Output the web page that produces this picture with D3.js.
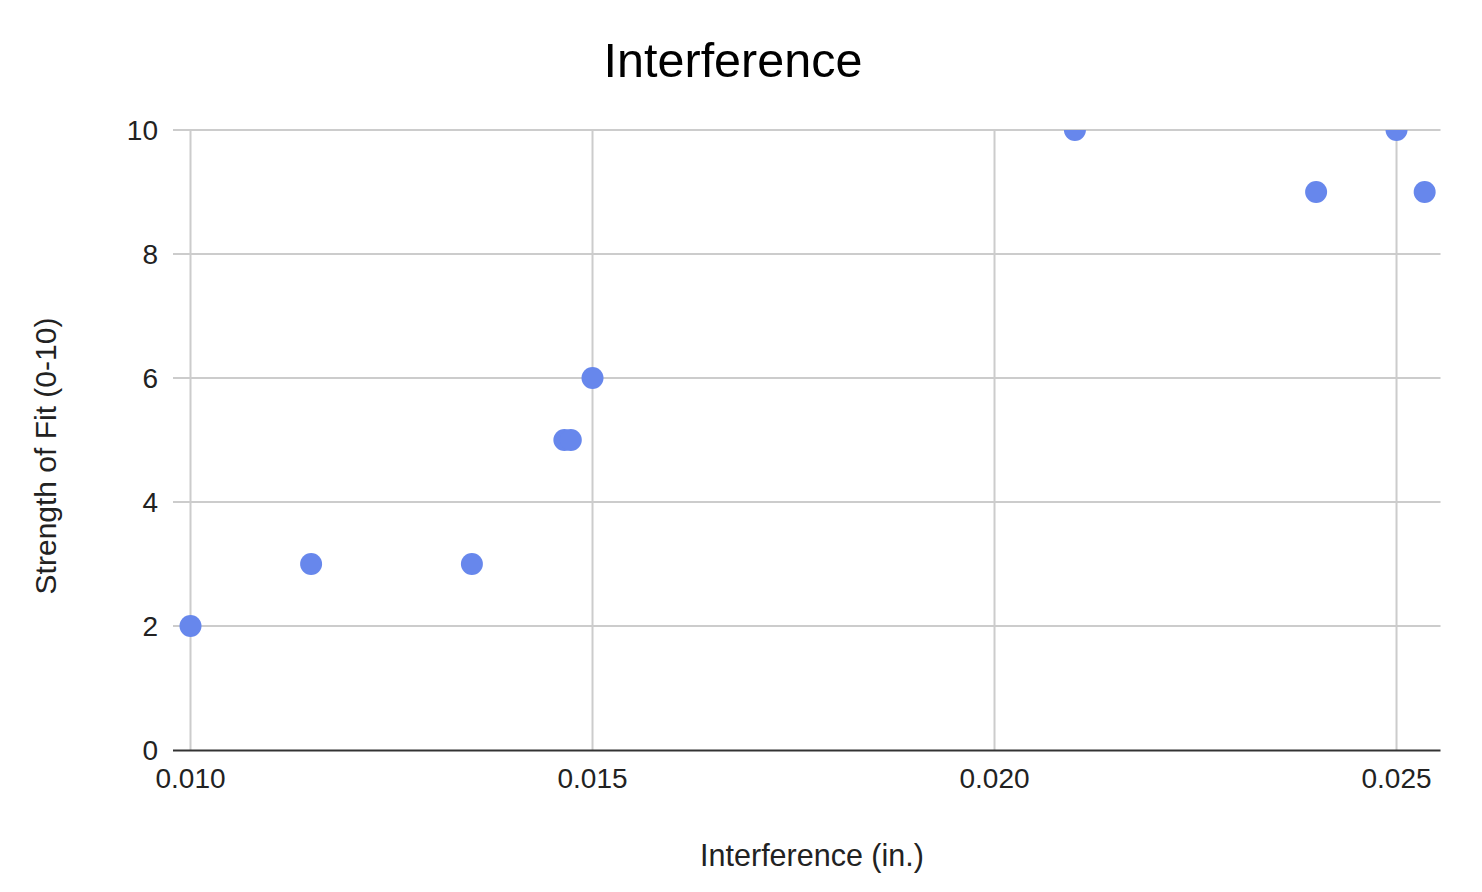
<!DOCTYPE html>
<html><head><meta charset="utf-8">
<script src="https://cdn.jsdelivr.net/npm/d3@7"></script>
<style>body{margin:0;background:#fff;}text{font-family:"Liberation Sans",Arial,sans-serif;}</style>
</head><body>
<script>
const title = "Interference";
const xTitle = "Interference (in.)";
const yTitle = "Strength of Fit (0-10)";
const interference = [0.010, 0.0115, 0.0135, 0.01465, 0.01473, 0.015, 0.021, 0.024, 0.025, 0.02535];
const strength = [2, 3, 3, 5, 5, 6, 10, 9, 10, 9];
const xTicks = [0.010, 0.015, 0.020, 0.025];
const yTicks = [0, 2, 4, 6, 8, 10];
const xDomain = [0.010, 0.025547];
const yDomain = [0, 10];

const W = 1482, H = 892;
const m = {left: 190.5, right: 41.5, top: 130, bottom: 142};
const svg = d3.select("body").append("svg").attr("width", W).attr("height", H);
const x = d3.scaleLinear().domain(xDomain).range([m.left, W - m.right]);
const y = d3.scaleLinear().domain(yDomain).range([H - m.bottom, m.top]);

// horizontal gridlines
svg.append("g").selectAll("line").data(yTicks.filter(d => d !== 0)).join("line")
  .attr("x1", 173).attr("x2", W - m.right)
  .attr("y1", d => y(d)).attr("y2", d => y(d))
  .attr("stroke", "#cccccc").attr("stroke-width", 2);
// vertical gridlines
svg.append("g").selectAll("line").data(xTicks).join("line")
  .attr("x1", d => x(d)).attr("x2", d => x(d))
  .attr("y1", m.top).attr("y2", H - m.bottom)
  .attr("stroke", "#cccccc").attr("stroke-width", 2);
// baseline
svg.append("line").attr("x1", 173).attr("x2", W - m.right)
  .attr("y1", y(0) + 0.5).attr("y2", y(0) + 0.5).attr("stroke", "#333333").attr("stroke-width", 2);

// y tick labels
svg.append("g").selectAll("text").data(yTicks).join("text")
  .attr("x", 158).attr("y", d => y(d) + 9.5).attr("text-anchor", "end")
  .attr("font-size", 28).attr("fill", "#222").text(d => d);
// x tick labels
svg.append("g").selectAll("text").data(xTicks).join("text")
  .attr("x", d => x(d)).attr("y", 788).attr("text-anchor", "middle")
  .attr("font-size", 28).attr("fill", "#222").text(d => d3.format(".3f")(d));

// clip for points (top edge of plot)
svg.append("clipPath").attr("id", "clip").append("rect")
  .attr("x", 0).attr("y", m.top).attr("width", W).attr("height", H - m.top);
svg.append("g").attr("clip-path", "url(#clip)").selectAll("circle")
  .data(interference.map((v, i) => [v, strength[i]])).join("circle")
  .attr("cx", d => x(d[0])).attr("cy", d => y(d[1])).attr("r", 11)
  .attr("fill", "#6787ec");

// titles
svg.append("text").attr("x", 733).attr("y", 77).attr("text-anchor", "middle")
  .attr("font-size", 48.5).attr("fill", "#000").text(title);
svg.append("text").attr("x", 812).attr("y", 866).attr("text-anchor", "middle")
  .attr("font-size", 30.5).attr("fill", "#222").text(xTitle);
svg.append("text").attr("transform", "translate(56,456) rotate(-90)").attr("text-anchor", "middle")
  .attr("font-size", 30).attr("fill", "#222").text(yTitle);
</script>
</body></html>
